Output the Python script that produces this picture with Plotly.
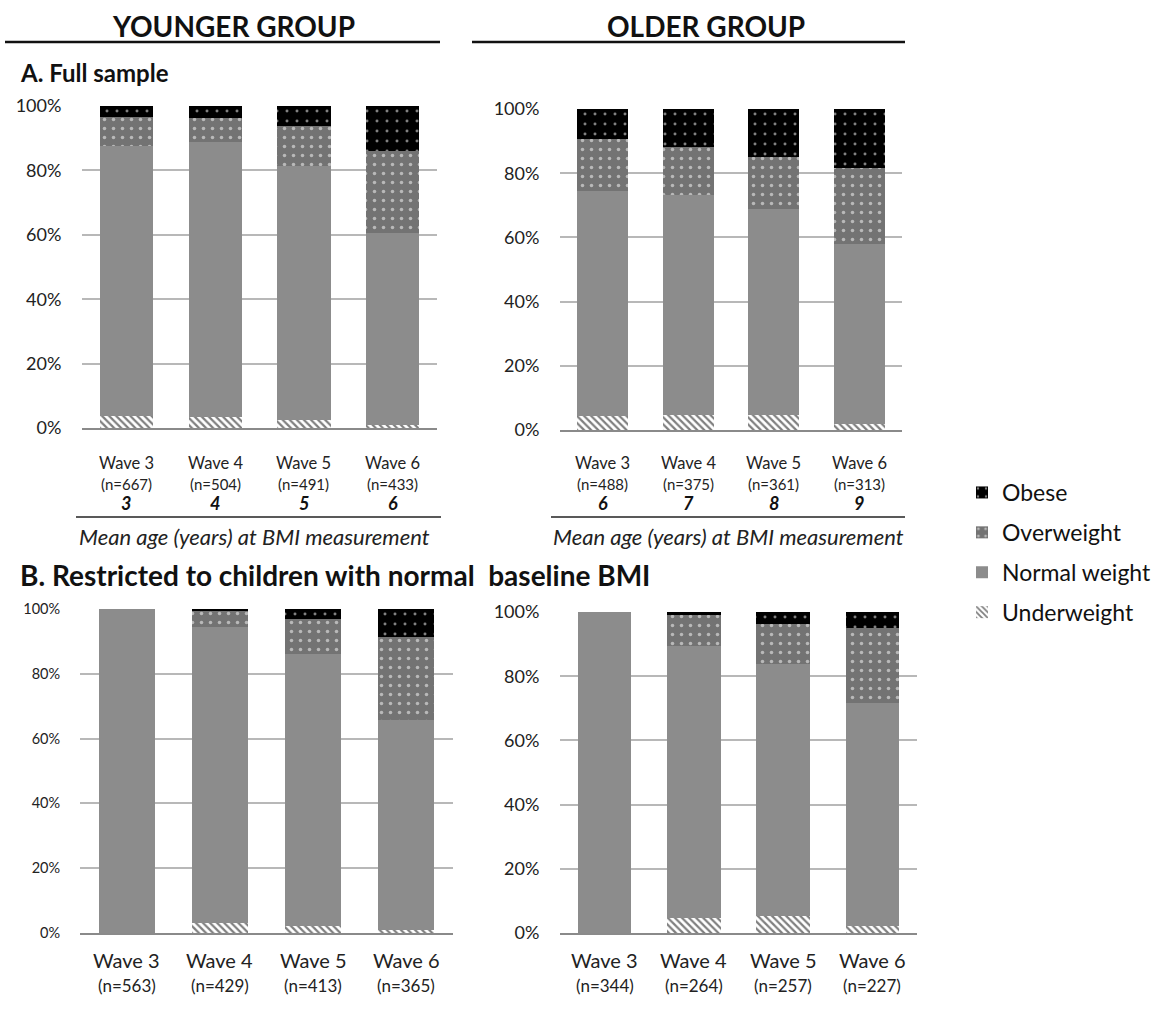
import plotly.graph_objects as go

# ---------------- DATA ----------------
waves = ["Wave 3", "Wave 4", "Wave 5", "Wave 6"]
categories = ["Underweight", "Normal weight", "Overweight", "Obese"]
legend_ranks = [4, 3, 2, 1]

young_full_n = ["(n=667)", "(n=504)", "(n=491)", "(n=433)"]
old_full_n = ["(n=488)", "(n=375)", "(n=361)", "(n=313)"]
young_restr_n = ["(n=563)", "(n=429)", "(n=413)", "(n=365)"]
old_restr_n = ["(n=344)", "(n=264)", "(n=257)", "(n=227)"]

young_ages = ["3", "4", "5", "6"]
old_ages = ["6", "7", "8", "9"]

# percentages per wave (Wave 3..6)
young_full_under = [3.8, 3.4, 2.6, 0.8]
young_full_normal = [83.8, 85.5, 78.8, 59.9]
young_full_over = [8.9, 7.3, 12.4, 25.4]
young_full_obese = [3.5, 3.8, 6.2, 13.9]

old_full_under = [4.4, 4.7, 4.7, 1.8]
old_full_normal = [70.1, 68.4, 64.1, 56.1]
old_full_over = [16.1, 15.0, 16.1, 23.6]
old_full_obese = [9.4, 11.9, 15.1, 18.5]

young_restr_under = [0.0, 3.1, 2.1, 0.8]
young_restr_normal = [100.0, 91.5, 84.1, 65.0]
young_restr_over = [0.0, 4.7, 10.7, 25.5]
young_restr_obese = [0.0, 0.7, 3.1, 8.7]

old_restr_under = [0.0, 4.7, 5.2, 2.3]
old_restr_normal = [100.0, 84.6, 78.7, 69.4]
old_restr_over = [0.0, 9.7, 12.3, 23.3]
old_restr_obese = [0.0, 1.0, 3.8, 5.0]

y_ticks = [0, 20, 40, 60, 80, 100]

FONT = "Lato, 'Open Sans', sans-serif"
W, H = 1164, 1014

styles = {
    "Underweight": dict(color="white", pattern=dict(shape="\\", fgcolor="black", bgcolor="white",
                                                     size=5, solidity=0.45, fillmode="overlay")),
    "Normal weight": dict(color="#8c8c8c"),
    "Overweight": dict(color="#737373", pattern=dict(shape=".", fgcolor="white", bgcolor="#737373",
                                                      size=9, solidity=0.12, fillmode="overlay")),
    "Obese": dict(color="black", pattern=dict(shape=".", fgcolor="white", bgcolor="black",
                                               size=10, solidity=0.07, fillmode="overlay")),
}

panels = [
    dict(data=[young_full_under, young_full_normal, young_full_over, young_full_obese],
         xd=[82 / W, 437 / W], yd=[1 - 428 / H, 1 - 106 / H], n=young_full_n, ytf=18),
    dict(data=[old_full_under, old_full_normal, old_full_over, old_full_obese],
         xd=[560 / W, 902 / W], yd=[1 - 430 / H, 1 - 109 / H], n=old_full_n, ytf=18),
    dict(data=[young_restr_under, young_restr_normal, young_restr_over, young_restr_obese],
         xd=[80 / W, 453 / W], yd=[1 - 933 / H, 1 - 609 / H], n=young_restr_n, ytf=14.5),
    dict(data=[old_restr_under, old_restr_normal, old_restr_over, old_restr_obese],
         xd=[560 / W, 917 / W], yd=[1 - 933 / H, 1 - 612 / H], n=old_restr_n, ytf=18),
]

fig = go.Figure()
layout = {}
annotations = []
shapes = []


def py(v):
    return 1 - v / H


for i, p in enumerate(panels):
    k = "" if i == 0 else str(i + 1)
    xa, ya = "x" + k, "y" + k
    for cat, rank, vals in zip(categories, legend_ranks, p["data"]):
        fig.add_trace(go.Bar(
            x=waves, y=vals, name=cat, xaxis=xa, yaxis=ya,
            marker=dict(line=dict(width=0), **styles[cat]),
            showlegend=(i == 0), legendgroup=cat, legendrank=rank, width=0.6,
        ))
    layout["xaxis" + k] = dict(
        domain=p["xd"], anchor=ya, showticklabels=False, showline=True, automargin=False,
        linecolor="#8a8a8a", linewidth=2, showgrid=False, ticks="", fixedrange=True,
    )
    layout["yaxis" + k] = dict(
        domain=p["yd"], anchor=xa, range=[0, 100], tickvals=y_ticks, automargin=False,
        ticktext=[f"{v}%" for v in y_ticks], showgrid=True, gridcolor="#b8b8b8",
        gridwidth=1.5, zeroline=False, showline=False, ticks="outside", ticklen=16,
        tickcolor="rgba(0,0,0,0)", tickfont=dict(size=p["ytf"], family=FONT, color="#222"),
    )
    top_panel = i < 2
    wave_y = py(463 if top_panel else 960)
    n_y = py(484 if top_panel else 985)
    for w, nt in zip(waves, p["n"]):
        annotations.append(dict(x=w, y=wave_y, xref=xa, yref="paper", text=w, showarrow=False,
                                xanchor="center", yanchor="middle",
                                font=dict(size=16.5 if top_panel else 20, family=FONT, color="#222")))
        annotations.append(dict(x=w, y=n_y, xref=xa, yref="paper", text=nt, showarrow=False,
                                xanchor="center", yanchor="middle",
                                font=dict(size=15 if top_panel else 17, family=FONT, color="#222")))
    if top_panel:
        ages = young_ages if i == 0 else old_ages
        for w, a in zip(waves, ages):
            annotations.append(dict(x=w, y=py(503), xref=xa, yref="paper",
                                    text=f"<b><i>{a}</i></b>", showarrow=False,
                                    xanchor="center", yanchor="middle",
                                    font=dict(size=18, family=FONT, color="#111")))

# age-axis rules and captions
for x0, x1, cx in [(76, 441, 254), (551, 905, 728)]:
    shapes.append(dict(type="line", xref="paper", yref="paper", x0=x0 / W, x1=x1 / W,
                       y0=py(517), y1=py(517), line=dict(color="#222", width=1.5)))
    annotations.append(dict(x=cx / W, y=py(536), xref="paper", yref="paper",
                            text="<i>Mean age (years) at BMI measurement</i>", showarrow=False,
                            xanchor="center", yanchor="middle",
                            font=dict(size=22, family=FONT, color="#222")))

# group headers
for x0, x1, cx, txt in [(5, 440, 233, "YOUNGER GROUP"), (472, 905, 706, "OLDER GROUP")]:
    shapes.append(dict(type="line", xref="paper", yref="paper", x0=x0 / W, x1=x1 / W,
                       y0=py(42), y1=py(42), line=dict(color="#111", width=2.5)))
    annotations.append(dict(x=cx / W, y=py(26), xref="paper", yref="paper",
                            text=f"<b>{txt}</b>", showarrow=False, xanchor="center",
                            yanchor="middle", font=dict(size=28, family=FONT, color="#111")))

annotations.append(dict(x=18 / W, y=py(72), xref="paper", yref="paper",
                        text="<b>A. Full sample</b>", showarrow=False, xanchor="left",
                        yanchor="middle", font=dict(size=24, family=FONT, color="#111")))
annotations.append(dict(x=18 / W, y=py(575), xref="paper", yref="paper",
                        text="<b>B. Restricted to children with normal  baseline BMI</b>",
                        showarrow=False, xanchor="left", yanchor="middle",
                        font=dict(size=28, family=FONT, color="#111")))

fig.update_layout(
    width=W, height=H, autosize=False,
    margin=dict(l=0, r=0, t=0, b=0, pad=0, autoexpand=False),
    paper_bgcolor="white", plot_bgcolor="white", barmode="stack",
    annotations=annotations, shapes=shapes,
    legend=dict(x=962 / W, y=py(471), xanchor="left", yanchor="top",
                traceorder="grouped", font=dict(size=23, family=FONT, color="#111"),
                itemwidth=30, tracegroupgap=7, bgcolor="rgba(0,0,0,0)"),
    **layout,
)

fig.write_html("out.html", include_plotlyjs=True, full_html=True,
               default_width=f"{W}px", default_height=f"{H}px")
